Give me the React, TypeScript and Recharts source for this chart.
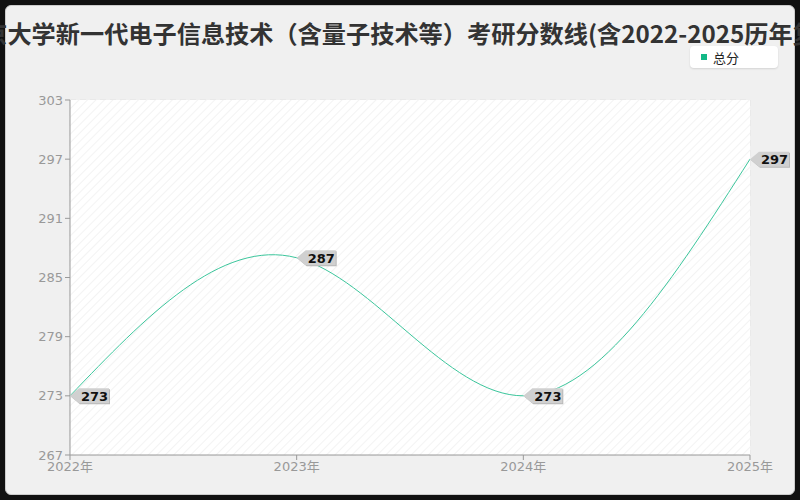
import React from "react";
import {
  LineChart,
  Line,
  XAxis,
  YAxis,
  CartesianGrid,
  LabelList,
} from "recharts";

const years = ["2022年", "2023年", "2024年", "2025年"];
const totalScores = [273, 287, 273, 297];
const yTicks = [267, 273, 279, 285, 291, 297, 303];

const title =
  "北京大学新一代电子信息技术（含量子技术等）考研分数线(含2022-2025历年复试)";

const data = years.map((year, i) => ({ year, total: totalScores[i] }));

const lineColor = "#3cc69c";
const tickStyle = { fontSize: 13, fill: "#999", fontFamily: "DejaVu Sans, Noto Sans CJK SC" };

function Callout(props: any) {
  const { x, y, value } = props;
  const h = 15;
  const w = 39;
  const shape = (dx: number, dy: number) =>
    [
      [x + dx, y + dy],
      [x + 9 + dx, y - h / 2 + dy],
      [x + w + dx, y - h / 2 + dy],
      [x + w + dx, y + h / 2 + dy],
      [x + 9 + dx, y + h / 2 + dy],
    ]
      .map((p) => p.join(","))
      .join(" ");
  return (
    <g>
      <polygon points={shape(1, 1)} fill="#b8b8b8" />
      <polygon points={shape(0, 0)} fill="#d0d0d0" />
      <text
        x={x + 11}
        y={y + 5}
        fontSize={13}
        fontFamily="DejaVu Sans"
        fontWeight={600}
        fill="#111"
      >
        {value}
      </text>
    </g>
  );
}

function LegendBox() {
  return (
    <div
      style={{
        position: "absolute",
        left: 690,
        top: 46,
        width: 88,
        height: 22,
        background: "#fff",
        borderRadius: 4,
        boxShadow: "0 1px 2px rgba(0,0,0,0.12)",
        display: "flex",
        alignItems: "center",
        fontFamily: "Noto Sans CJK SC",
        fontSize: 13,
        color: "#222",
      }}
    >
      <span
        style={{
          display: "inline-block",
          width: 6,
          height: 6,
          background: "#12b886",
          marginLeft: 11,
          marginRight: 6,
        }}
      />
      总分
    </div>
  );
}

export default function App() {
  return (
    <div
      style={{
        position: "absolute",
        left: 0,
        top: 0,
        width: 800,
        height: 500,
        background: "#111",
      }}
    >
      <div
        style={{
          position: "absolute",
          left: 5,
          top: 5,
          width: 788,
          height: 488,
          background: "#f0f0f0",
          border: "1px solid #ccc",
          borderRadius: 6,
        }}
      />
      <LineChart
        width={800}
        height={500}
        data={data}
        margin={{ top: 100, right: 50, bottom: 15, left: 10 }}
        style={{ position: "absolute", left: 0, top: 0 }}
      >
        <defs>
          <pattern id="hatch" width="6" height="6" patternUnits="userSpaceOnUse" patternTransform="rotate(45)">
            <rect width="6" height="6" fill="#ffffff" />
            <line x1="0" y1="0" x2="0" y2="6" stroke="#f3f3f3" strokeWidth="2" />
          </pattern>
        </defs>
        <rect x={70} y={100} width={680} height={355} fill="url(#hatch)" />
        <text
          x={-41}
          y={43}
          textAnchor="start"
          fontSize={24.2}
          fontWeight={700}
          fontFamily="Noto Sans CJK SC"
          fill="#333"
        >
          {title}
        </text>
        <CartesianGrid stroke="#e3e3e3" strokeDasharray="6 4" />
        <XAxis
          dataKey="year"
          tick={tickStyle}
          tickLine={{ stroke: "#999" }}
          axisLine={{ stroke: "#999" }}
          tickSize={5}
          interval={0}
        />
        <YAxis
          domain={[267, 303]}
          ticks={yTicks}
          tick={tickStyle}
          tickLine={{ stroke: "#999" }}
          axisLine={{ stroke: "#999" }}
          tickSize={5}
          width={60}
          interval={0}
        />
        <Line
          type="natural"
          dataKey="total"
          name="总分"
          stroke={lineColor}
          strokeWidth={1}
          dot={false}
          isAnimationActive={false}
        >
          <LabelList dataKey="total" content={<Callout />} />
        </Line>
      </LineChart>
      <LegendBox />
    </div>
  );
}
